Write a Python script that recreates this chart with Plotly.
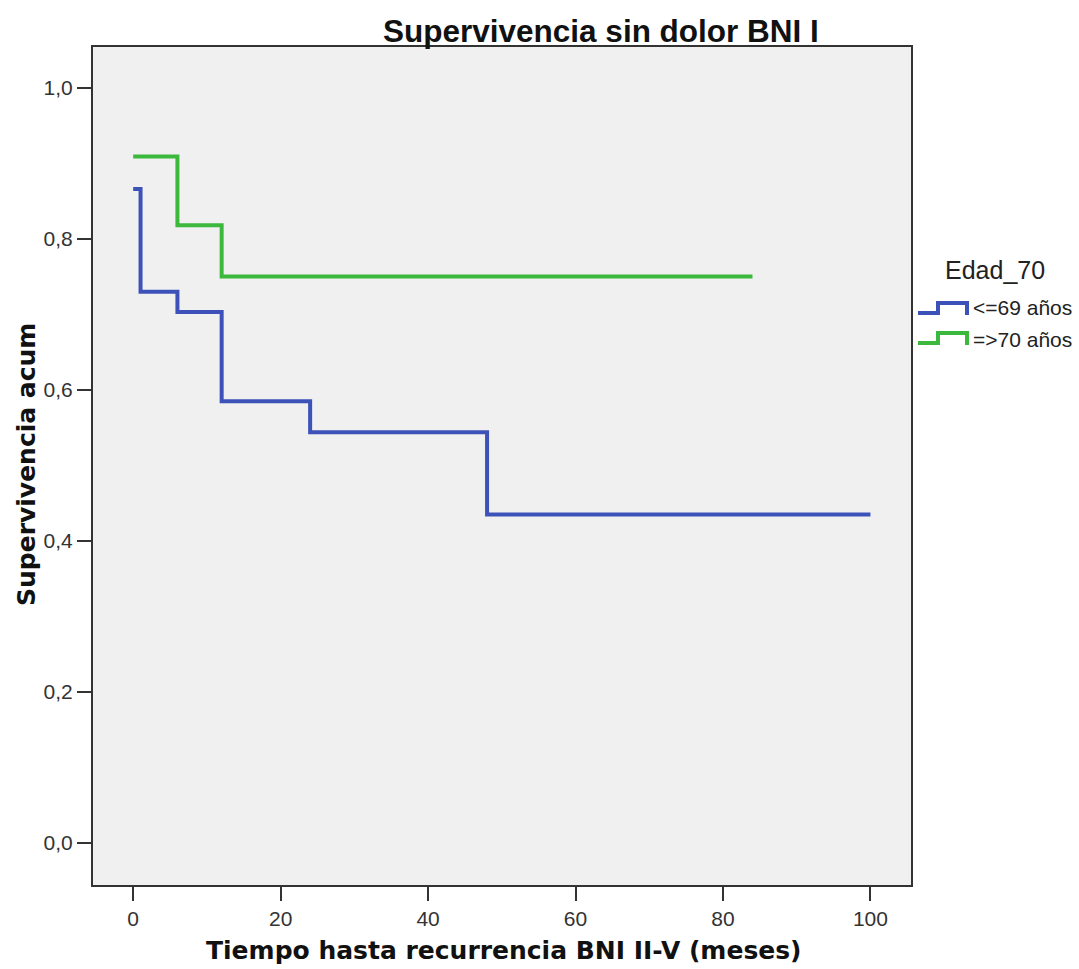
import plotly.graph_objects as go

# Kaplan-Meier survival estimates by age group
time_le69 = [0, 1, 6, 12, 24, 48, 100]
surv_le69 = [0.866, 0.730, 0.703, 0.585, 0.544, 0.435, 0.435]
time_ge70 = [0, 6, 12, 84]
surv_ge70 = [0.909, 0.818, 0.750, 0.750]

group_names = ["<=69 años", "=>70 años"]
group_colors = ["#3c52b8", "#3cb83c"]

x_ticks = [0, 20, 40, 60, 80, 100]
y_ticks = [0.0, 0.2, 0.4, 0.6, 0.8, 1.0]
y_tick_text = ["0,0", "0,2", "0,4", "0,6", "0,8", "1,0"]

W, H = 1079, 969
L, R, T, B = 93, 168, 47, 84
PW, PH = W - L - R, H - T - B


def px(x):
    return (x - L) / PW


def py(y):
    return (H - B - y) / PH


fig = go.Figure()
for t, s, name, col in [(time_le69, surv_le69, group_names[0], group_colors[0]),
                        (time_ge70, surv_ge70, group_names[1], group_colors[1])]:
    fig.add_trace(go.Scatter(x=t, y=s, mode="lines", name=name,
                             line=dict(color=col, width=4, shape="hv"),
                             showlegend=False))

axis_common = dict(showline=True, linecolor="#333333", linewidth=2, mirror=True,
                   ticks="outside", ticklen=14, tickwidth=2, tickcolor="#333333",
                   showgrid=False, zeroline=False,
                   tickfont=dict(family="Liberation Sans, Arial", size=21, color="#333333"))

fig.update_layout(
    width=W, height=H,
    margin=dict(l=L, r=R, t=T, b=B),
    paper_bgcolor="white", plot_bgcolor="#f0f0f0",
    xaxis=dict(range=[-5.45, 105.5], tickvals=x_ticks, **axis_common),
    yaxis=dict(range=[-0.0555, 1.054], tickvals=y_ticks, ticktext=y_tick_text, **axis_common),
)

annotations = [
    dict(text="<b>Supervivencia sin dolor BNI I</b>", x=px(601), y=py(31),
         font=dict(family="Liberation Sans, Arial", size=31.5, color="#111111")),
    dict(text="<b>Tiempo hasta recurrencia BNI II-V (meses)</b>", x=px(504), y=py(950),
         font=dict(family="DejaVu Sans", size=25, color="#111111")),
    dict(text="<b>Supervivencia acum</b>", x=px(26), y=py(465), textangle=-90,
         font=dict(family="DejaVu Sans", size=25, color="#111111")),
    dict(text="Edad_70", x=px(995), y=py(270),
         font=dict(family="Liberation Sans, Arial", size=25, color="#222222")),
]
shapes = []
for i, (name, col) in enumerate(zip(group_names, group_colors)):
    yc = 307 + 32 * i
    annotations.append(dict(text=name, x=px(971), y=py(yc), xanchor="left",
                            font=dict(family="Liberation Sans, Arial", size=21, color="#222222")))
    yi = 308 + 30 * i
    path = (f"M {px(918)},{py(yi + 5)} L {px(938)},{py(yi + 5)} L {px(938)},{py(yi - 5)} "
            f"L {px(967)},{py(yi - 5)} L {px(967)},{py(yi + 7)}")
    shapes.append(dict(type="path", path=path, xref="paper", yref="paper",
                       line=dict(color=col, width=4)))

for a in annotations:
    a.update(xref="paper", yref="paper", showarrow=False)
    a.setdefault("xanchor", "center")
    a.setdefault("yanchor", "middle")

fig.update_layout(annotations=annotations, shapes=shapes)
fig.write_html("out.html")
